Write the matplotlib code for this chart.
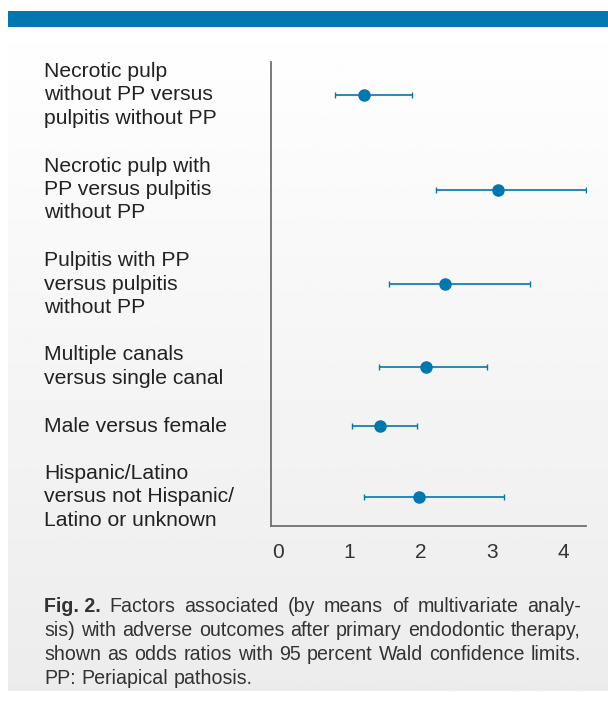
import matplotlib.pyplot as plt
import numpy as np

# odds ratios with 95% Wald confidence limits, top row first
labels = [
    "Necrotic pulp\nwithout PP versus\npulpitis without PP",
    "Necrotic pulp with\nPP versus pulpitis\nwithout PP",
    "Pulpitis with PP\nversus pulpitis\nwithout PP",
    "Multiple canals\nversus single canal",
    "Male versus female",
    "Hispanic/Latino\nversus not Hispanic/\nLatino or unknown",
]
odds = [1.20, 3.09, 2.34, 2.07, 1.43, 1.98]
lower = [0.80, 2.21, 1.56, 1.42, 1.04, 1.21]
upper = [1.88, 4.32, 3.54, 2.93, 1.95, 3.17]
xticks = [0, 1, 2, 3, 4]

caption_lines = [
    "Fig. 2. Factors associated (by means of multivariate analy-",
    "sis) with adverse outcomes after primary endodontic therapy,",
    "shown as odds ratios with 95 percent Wald confidence limits.",
    "PP: Periapical pathosis.",
]

blue = "#0077ae"
font = "Liberation Sans"
W, H = 608, 710
fig = plt.figure(figsize=(W / 100, H / 100), dpi=100)
fig.patch.set_facecolor("white")

# gray gradient panel and blue header bar
bg = fig.add_axes([8 / W, 1 - 691 / H, 600 / W, (691 - 26) / H], zorder=0)
grad = np.linspace(0.998, 0.925, 256).reshape(-1, 1)
bg.imshow(grad, aspect="auto", cmap="gray", vmin=0, vmax=1, extent=[0, 1, 0, 1])
bg.axis("off")
bar = fig.add_axes([8 / W, 1 - 27 / H, 600 / W, 16 / H], zorder=0)
bar.set_facecolor(blue)
bar.set_xticks([]); bar.set_yticks([])
for s in bar.spines.values():
    s.set_visible(False)

# row positions from number of label lines
nlines = [l.count("\n") + 1 for l in labels]
line_h, gap = 23.5, 24
pos = [33.0]
for i in range(1, len(labels)):
    pos.append(pos[-1] + (nlines[i - 1] + nlines[i]) / 2 * line_h + gap)

ax = fig.add_axes([271 / W, 1 - 526 / H, 315 / W, 464 / H], zorder=2)
ax.patch.set_alpha(0)
ax.set_xlim(-0.098, 4.32)
ax.set_ylim(464, 0)
odds_a = np.array(odds)
ax.errorbar(odds_a, pos, xerr=[odds_a - np.array(lower), np.array(upper) - odds_a],
            fmt="o", color=blue, ms=8, elinewidth=1.2, capsize=2.2, capthick=1.0)
for s in ["top", "right"]:
    ax.spines[s].set_visible(False)
for s in ["left", "bottom"]:
    ax.spines[s].set_color("#707070")
    ax.spines[s].set_linewidth(1.3)
ax.set_yticks([])
ax.set_xticks(xticks)
ax.tick_params(axis="x", length=0, pad=12, labelsize=15, labelcolor="#333333")
for t in ax.get_xticklabels():
    t.set_fontfamily(font)

for lab, p in zip(labels, pos):
    fig.text(44 / W, 1 - (62 + p) / H, lab, ha="left", va="center",
             fontsize=15.2, family=font, color="#222222", linespacing=1.30)

# justified caption
fig.canvas.draw()
r = fig.canvas.get_renderer()

def width(word, weight, fs):
    t = fig.text(0, 0, word, fontsize=fs, family=font, weight=weight)
    w = t.get_window_extent(r).width
    t.remove()
    return w

fs = 14 * 209 / width(caption_lines[-1], "normal", 14)
x0, x1 = 44, 581
line_y = [606, 630, 654, 678]
space = width("a a", "normal", fs) - 2 * width("a", "normal", fs)

for li, line in enumerate(caption_lines):
    words = line.split(" ")
    weights = ["normal"] * len(words)
    if li == 0:
        words = ["Fig. 2."] + words[2:]
        weights = ["bold"] + ["normal"] * (len(words) - 1)
    ws = [width(w, wt, fs) for w, wt in zip(words, weights)]
    if li < len(caption_lines) - 1:
        sp = (x1 - x0 - sum(ws)) / (len(words) - 1)
    else:
        sp = space
    x = x0
    y = 1 - line_y[li] / H
    for w, wt, ww in zip(words, weights, ws):
        fig.text(x / W, y, w, ha="left", va="center", fontsize=fs,
                 family=font, weight=wt, color="#333333")
        x += ww + sp

fig.savefig("out.png", dpi=100)
